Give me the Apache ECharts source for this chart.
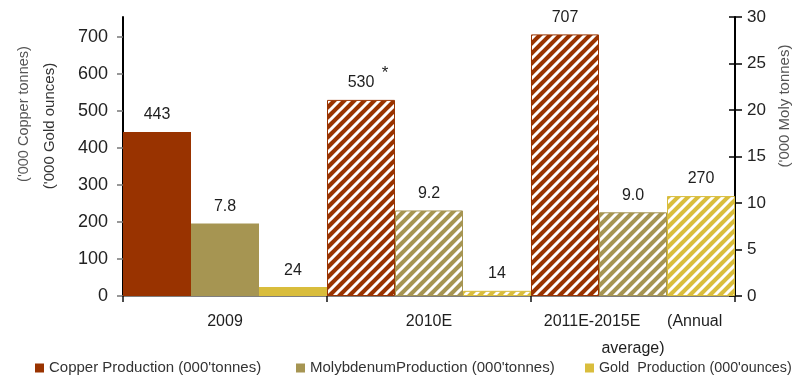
<!DOCTYPE html>
<html>
<head>
<meta charset="utf-8">
<script src="https://cdn.jsdelivr.net/npm/echarts@6/dist/echarts.min.js"></script>
<style>
  html, body { margin: 0; padding: 0; background: #fff; }
  #chart { width: 796px; height: 378px; }
</style>
</head>
<body>
<div id="chart"></div>
<script>
// Production history and outlook
const categories = ['2009', '2010E', '2011E-2015E      (Annual\naverage)'];
const copperValues = [443, 530, 707];   // '000 tonnes (left axis)
const molyValues = [7.8, 9.2, 9.0];     // '000 tonnes (right axis)
const goldValues = [24, 14, 270];       // '000 ounces (left axis)
const estimated = [false, true, true];  // estimates drawn hatched
const leftTicks = [0, 100, 200, 300, 400, 500, 600, 700];

const COPPER = '#993300';
const MOLY = '#a69552';
const GOLD = '#d9bd3c';
const FONT = '"Liberation Sans", Arial, sans-serif';

// Diagonal white stripes ("/") on a solid fill
function hatch(color) {
  const s = 10;
  const c = document.createElement('canvas');
  c.width = s; c.height = s;
  const g = c.getContext('2d');
  g.fillStyle = color;
  g.fillRect(0, 0, s, s);
  g.strokeStyle = '#ffffff';
  g.lineWidth = 3;
  g.lineCap = 'square';
  g.beginPath();
  g.moveTo(-2, s + 2); g.lineTo(s + 2, -2);
  g.moveTo(-2, 2); g.lineTo(2, -2);
  g.moveTo(s - 2, s + 2); g.lineTo(s + 2, s - 2);
  g.stroke();
  return c;
}

function barData(values, color) {
  return values.map((v, i) => ({
    value: v,
    itemStyle: estimated[i]
      ? { color: { image: hatch(color), repeat: 'repeat' }, borderColor: color, borderWidth: 1 }
      : { color: color }
  }));
}

const labelBase = {
  show: true,
  position: 'top',
  distance: 9,
  color: '#1e1e1e',
  fontFamily: FONT,
  fontSize: 16
};

const chart = echarts.init(document.getElementById('chart'), null, { renderer: 'canvas' });

function legendAt(left, name, size) {
  return {
    left: left, top: 360, padding: 0,
    itemWidth: 9, itemHeight: 9, itemGap: 5,
    icon: 'rect',
    textStyle: { fontFamily: FONT, fontSize: size, color: '#333', lineHeight: 16 },
    data: [name]
  };
}

chart.setOption({
  animation: false,
  backgroundColor: '#ffffff',
  grid: { left: 123, right: 61, top: 17, bottom: 82 },
  legend: [
    legendAt(35, "Copper Production (000'tonnes)", 15),
    legendAt(296, "MolybdenumProduction (000'tonnes)", 15),
    legendAt(585, "Gold  Production (000'ounces)", 14.3)
  ],
  xAxis: {
    type: 'category',
    data: categories,
    axisLine: { lineStyle: { color: '#555', width: 1.5 } },
    axisTick: { show: true, length: 6, lineStyle: { color: '#111', width: 1.5 } },
    axisLabel: {
      margin: 12, color: '#1e1e1e', fontFamily: FONT, fontSize: 16,
      lineHeight: 27, align: 'center', interval: 0
    }
  },
  yAxis: [
    {
      type: 'value', position: 'left', min: 0, max: 754, interval: 100,
      splitLine: { show: false },
      axisLine: { show: true, lineStyle: { color: '#000', width: 2 } },
      axisTick: { show: true, length: 6, customValues: leftTicks, lineStyle: { color: '#777', width: 1.5 } },
      axisLabel: { margin: 15, customValues: leftTicks, color: '#222', fontFamily: FONT, fontSize: 18 }
    },
    {
      type: 'value', position: 'right', min: 0, max: 30, interval: 5,
      splitLine: { show: false },
      axisLine: { show: true, lineStyle: { color: '#000', width: 2 } },
      axisTick: { show: true, length: 7, lineStyle: { color: '#000', width: 1.5 } },
      axisLabel: { margin: 12, color: '#222', fontFamily: FONT, fontSize: 17 }
    },
    {
      // inner half of the right-hand tick marks
      type: 'value', position: 'right', min: 0, max: 30, interval: 5,
      splitLine: { show: false },
      axisLine: { show: false },
      axisTick: { show: true, inside: true, length: 6, lineStyle: { color: '#000', width: 1.5 } },
      axisLabel: { show: false }
    }
  ],
  graphic: [
    {
      type: 'text', x: 24, y: 114, rotation: Math.PI / 2,
      style: { text: "('000 Copper tonnes)", fill: '#555', font: '14.5px ' + FONT, align: 'center', verticalAlign: 'middle' }
    },
    {
      type: 'text', x: 50, y: 126, rotation: Math.PI / 2,
      style: { text: "('000 Gold ounces)", fill: '#333', font: '15px ' + FONT, align: 'center', verticalAlign: 'middle' }
    },
    {
      type: 'text', x: 785, y: 106, rotation: Math.PI / 2,
      style: { text: "('000 Moly tonnes)", fill: '#555', font: '15px ' + FONT, align: 'center', verticalAlign: 'middle' }
    }
  ],
  series: [
    {
      name: "Copper Production (000'tonnes)",
      type: 'bar', yAxisIndex: 0,
      barGap: '0%', barCategoryGap: '0%',
      itemStyle: { color: COPPER },
      data: barData(copperValues, COPPER),
      label: Object.assign({}, labelBase, {
        formatter: p => p.dataIndex === 1 ? '{p|}{v|' + p.value + '}{s|*}' : String(p.value),
        rich: {
          p: { width: 14 },
          v: { fontFamily: FONT, fontSize: 16, color: '#1e1e1e', lineHeight: 26, verticalAlign: 'bottom' },
          s: { fontFamily: FONT, fontSize: 17, color: '#1e1e1e', width: 14, align: 'right', lineHeight: 26, verticalAlign: 'top' }
        }
      })
    },
    {
      name: "MolybdenumProduction (000'tonnes)",
      type: 'bar', yAxisIndex: 1,
      barGap: '0%', barCategoryGap: '0%',
      itemStyle: { color: MOLY },
      data: barData(molyValues, MOLY),
      label: Object.assign({}, labelBase, { formatter: p => Number(p.value).toFixed(1) })
    },
    {
      name: "Gold  Production (000'ounces)",
      type: 'bar', yAxisIndex: 0,
      barGap: '0%', barCategoryGap: '0%',
      itemStyle: { color: GOLD },
      data: barData(goldValues, GOLD),
      label: Object.assign({}, labelBase, { formatter: p => String(p.value) })
    }
  ]
});
</script>
</body>
</html>
